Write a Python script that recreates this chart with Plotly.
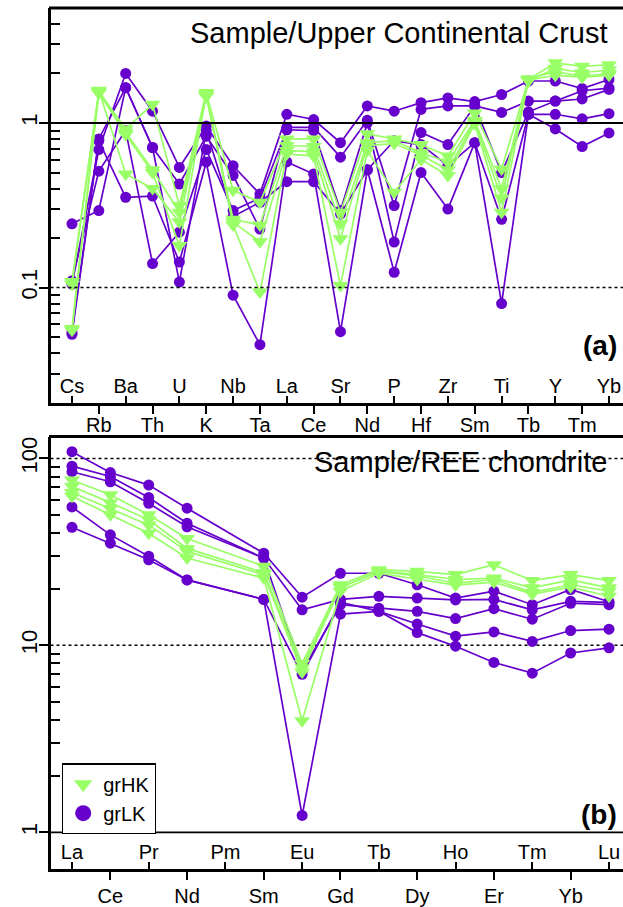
import plotly.graph_objects as go
import math

# ---------------- data ----------------
spider_elements = ["Cs", "Rb", "Ba", "Th", "U", "K", "Nb", "Ta", "La", "Ce", "Sr",
                   "Nd", "P", "Hf", "Zr", "Sm", "Ti", "Tb", "Y", "Tm", "Yb"]
ree_elements = ["La", "Ce", "Pr", "Nd", "Pm", "Sm", "Eu", "Gd", "Tb", "Dy", "Ho",
                "Er", "Tm", "Yb", "Lu"]

# Sample / Upper Continental Crust  (grLK)
lk1_ucc = [0.105, 0.69, 2.0, 1.18, 0.537, 0.96, 0.55, 0.37, 1.13, 1.05, 0.76, 1.27, 1.18, 1.33, 1.42, 1.35, 1.49, 1.80, 1.80, 1.62, 1.84]
lk2_ucc = [0.054, 0.80, 1.64, 0.71, 0.426, 0.83, 0.48, 0.227, 0.94, 0.94, 0.62, 1.04, 0.315, 1.21, 1.27, 1.27, 1.16, 1.36, 1.36, 1.57, 1.63]
lk3_ucc = [0.11, 0.51, 0.90, 0.14, 0.217, 0.69, 0.294, 0.35, 0.91, 0.90, 0.294, 1.00, 0.189, 0.875, 0.74, 1.27, 0.50, 1.17, 1.36, 1.40, 1.60]
lk4_ucc = [0.052, 0.78, 0.354, 0.36, 0.143, 0.58, 0.09, 0.045, 0.58, 0.49, 0.054, 0.52, 0.124, 0.50, 0.30, 0.76, 0.08, 1.13, 1.13, 1.06, 1.14]
lk5_ucc = [0.244, 0.294, 1.64, 0.71, 0.108, 0.90, 0.27, 0.33, 0.44, 0.44, 0.28, 0.52, 0.78, 0.74, 0.55, 0.76, 0.26, 1.13, 0.92, 0.72, 0.87]

# Sample / Upper Continental Crust  (grHK)
hk1_ucc = [0.109, 1.56, 0.92, 1.30, 0.315, 1.53, 0.39, 0.33, 0.80, 0.80, 0.287, 0.86, 0.80, 0.74, 0.63, 1.15, 0.525, 1.84, 2.32, 2.21, 2.26]
hk2_ucc = [0.105, 1.52, 0.88, 0.52, 0.287, 1.48, 0.26, 0.24, 0.73, 0.72, 0.244, 0.76, 0.78, 0.66, 0.58, 1.04, 0.40, 1.80, 2.15, 2.02, 2.10]
hk3_ucc = [0.0565, 1.58, 0.49, 0.40, 0.25, 1.45, 0.25, 0.19, 0.68, 0.67, 0.198, 0.73, 0.75, 0.64, 0.52, 1.02, 0.35, 1.86, 2.05, 1.92, 2.00]
hk4_ucc = [0.055, 1.54, 0.85, 0.50, 0.18, 1.50, 0.24, 0.094, 0.65, 0.63, 0.103, 0.68, 0.379, 0.60, 0.48, 0.99, 0.287, 1.82, 1.95, 1.90, 1.95]

# Sample / REE chondrite (Pm not analysed)
lk1_ree = [108.6, 84, 72, 54.2, None, 31.1, 18.1, 24.3, 24.3, 21.1, 17.9, 19.5, 16.5, 19.9, 17.1]
lk2_ree = [90.9, 80, 61.8, 45, None, 29.3, 15.5, 17.6, 18.3, 17.9, 17.5, 17.6, 15.5, 17.2, 17.0]
lk3_ree = [84.9, 75, 57.5, 43.1, None, 29.3, 7.3, 16.5, 15.8, 15.2, 13.9, 15.7, 13.8, 16.8, 16.5]
lk4_ree = [55, 39, 30, 22.4, None, 17.6, 1.23, 14.7, 15.2, 13.0, 11.2, 11.8, 10.5, 12.0, 12.2]
lk5_ree = [42.8, 35.2, 28.7, 22.4, None, 17.6, 7.0, 17.0, 15.2, 11.7, 9.9, 8.1, 7.1, 9.1, 9.7]

hk1_ree = [76.6, 64, 49.9, 37.3, None, 26.5, 8.0, 21.1, 25.4, 24.9, 23.9, 27.0, 22.2, 23.9, 22.2]
hk2_ree = [70.8, 58, 47, 33, None, 24.5, 7.6, 20.3, 25.0, 23.9, 22.5, 22.9, 20.3, 22.4, 20.3]
hk3_ree = [65.7, 54, 44.1, 31.8, None, 23.9, 7.2, 20.5, 24.8, 23.5, 21.5, 22.5, 19.2, 21.1, 19.5]
hk4_ree = [62.7, 50, 39.8, 29.3, None, 22.9, 3.95, 19.5, 24.3, 22.5, 21.0, 21.8, 18.8, 20.5, 18.3]

group_names = ["grHK", "grLK"]

# ---------------- styling ----------------
W, H = 623, 907
LK_COLOR = "#6600CC"
HK_COLOR = "#99FF66"
FONT = "Liberation Sans, Arial, sans-serif"


def px(p):
    return p / W


def py(p):
    return 1 - p / H


left = px(50.5)
top_dom = [py(404), py(8)]
bot_dom = [py(872), py(438)]

xs_sp = list(range(1, len(spider_elements) + 1))
xs_ree = list(range(1, len(ree_elements) + 1))

fig = go.Figure()

lk_sp = [lk1_ucc, lk2_ucc, lk3_ucc, lk4_ucc, lk5_ucc]
hk_sp = [hk1_ucc, hk2_ucc, hk3_ucc, hk4_ucc]
lk_re = [lk1_ree, lk2_ree, lk3_ree, lk4_ree, lk5_ree]
hk_re = [hk1_ree, hk2_ree, hk3_ree, hk4_ree]

lk_style = dict(mode="lines+markers", line=dict(color=LK_COLOR, width=1.7),
                marker=dict(symbol="circle", size=11, color=LK_COLOR),
                showlegend=False, connectgaps=True)
hk_style = dict(mode="lines+markers", line=dict(color=HK_COLOR, width=1.7),
                marker=dict(symbol="triangle-down", size=14, color=HK_COLOR),
                showlegend=False, connectgaps=True)

for s in lk_sp:
    fig.add_trace(go.Scatter(x=xs_sp, y=s, xaxis="x", yaxis="y", name=group_names[1], **lk_style))
for s in hk_sp:
    fig.add_trace(go.Scatter(x=xs_sp, y=s, xaxis="x", yaxis="y", name=group_names[0], **hk_style))
for s in lk_re:
    fig.add_trace(go.Scatter(x=xs_ree, y=s, xaxis="x2", yaxis="y2", name=group_names[1], **lk_style))
for s in hk_re:
    fig.add_trace(go.Scatter(x=xs_ree, y=s, xaxis="x2", yaxis="y2", name=group_names[0], **hk_style))

# legend proxies (markers only)
fig.add_trace(go.Scatter(x=[None], y=[None], xaxis="x2", yaxis="y2", mode="markers",
                         name=group_names[0], legendrank=1,
                         marker=dict(symbol="triangle-down", size=20, color=HK_COLOR)))
fig.add_trace(go.Scatter(x=[None], y=[None], xaxis="x2", yaxis="y2", mode="markers",
                         name=group_names[1], legendrank=2,
                         marker=dict(symbol="circle", size=16, color=LK_COLOR)))


def minor_vals(lo_exp, hi_exp):
    v = []
    for e in range(lo_exp, hi_exp + 1):
        for m in range(2, 10):
            v.append(m * 10 ** e)
    return v


tickfont = dict(family=FONT, size=20, color="black")
ytickfont = dict(family=FONT, size=22, color="black")

common_x = dict(showgrid=False, zeroline=False, tickcolor="black", tickwidth=2,
                tickfont=tickfont, fixedrange=True)

even_sp = [i for i in xs_sp if i % 2 == 0]
odd_sp = [i for i in xs_sp if i % 2 == 1]
even_re = [i for i in xs_ree if i % 2 == 0]
odd_re = [i for i in xs_ree if i % 2 == 1]

sp_range = [0.2, 1 + (623 - 72) / 26.85]
re_range = [0.44, 1 + (623 - 72) / 38.357]

fig.update_layout(
    width=W, height=H, margin=dict(l=0, r=0, t=0, b=0),
    paper_bgcolor="white", plot_bgcolor="white",
    font=dict(family=FONT, color="black"),
    xaxis=dict(domain=[left, 1], anchor="y", range=sp_range,
               tickvals=even_sp, ticktext=[spider_elements[i - 1] for i in even_sp],
               ticks="outside", ticklen=8, showline=True, linewidth=3, linecolor="black",
               ticklabelstandoff=-6, **common_x),
    xaxis3=dict(overlaying="x", anchor="y", side="bottom", range=sp_range,
                tickvals=odd_sp, ticktext=[spider_elements[i - 1] for i in odd_sp],
                ticks="inside", ticklen=7, ticklabelposition="inside",
                showline=False, **common_x),
    yaxis=dict(domain=top_dom, anchor="x", type="log",
               range=[math.log10(0.02), math.log10(5)],
               tickvals=[0.1, 1], ticktext=["0.1", "1"], tickangle=-90,
               ticks="outside", ticklen=9, tickwidth=2, tickcolor="black",
               tickfont=ytickfont, showline=True, linewidth=3, linecolor="black",
               showgrid=False, zeroline=False, fixedrange=True, ticklabelstandoff=-7,
               minor=dict(tickvals=minor_vals(-2, 0), ticks="inside", ticklen=9,
                          tickwidth=1.5, tickcolor="black", showgrid=False)),
    xaxis2=dict(domain=[left, 1], anchor="y2", range=re_range,
                tickvals=even_re, ticktext=[ree_elements[i - 1] for i in even_re],
                ticks="outside", ticklen=8, showline=True, linewidth=3, linecolor="black",
                ticklabelstandoff=-1, **common_x),
    xaxis4=dict(overlaying="x2", anchor="y2", side="bottom", range=re_range,
                tickvals=odd_re, ticktext=[ree_elements[i - 1] for i in odd_re],
                ticks="inside", ticklen=7, ticklabelposition="inside",
                showline=False, **common_x),
    yaxis2=dict(domain=bot_dom, anchor="x2", type="log", range=[-0.197, 2.117],
                tickvals=[1, 10, 100], ticktext=["1", "10", "100"], tickangle=-90,
                ticks="outside", ticklen=9, tickwidth=2, tickcolor="black",
                tickfont=ytickfont, showline=True, linewidth=3, linecolor="black",
                showgrid=False, zeroline=False, fixedrange=True, ticklabelstandoff=-7,
                minor=dict(tickvals=minor_vals(0, 1), ticks="inside", ticklen=9,
                           tickwidth=1.5, tickcolor="black", showgrid=False)),
    showlegend=True,
    legend=dict(x=px(62), y=py(766), xanchor="left", yanchor="top",
                bordercolor="black", borderwidth=1.2, bgcolor="white",
                font=dict(family=FONT, size=20, color="black"),
                tracegroupgap=0, itemsizing="trace"),
)

# dummy traces so the overlay axes render
fig.add_trace(go.Scatter(x=[None], y=[None], xaxis="x3", yaxis="y", showlegend=False))
fig.add_trace(go.Scatter(x=[None], y=[None], xaxis="x4", yaxis="y2", showlegend=False))

# top frame lines
for ytop in (8, 438):
    fig.add_shape(type="line", xref="paper", yref="paper", x0=px(49), x1=1,
                  y0=py(ytop), y1=py(ytop), line=dict(color="black", width=3))

# reference lines
fig.add_shape(type="line", xref="x domain", yref="y", x0=0, x1=1, y0=1, y1=1,
              line=dict(color="black", width=1.8))
fig.add_shape(type="line", xref="x domain", yref="y", x0=0, x1=1, y0=0.1, y1=0.1,
              line=dict(color="black", width=1.5, dash="dot"))
fig.add_shape(type="line", xref="x2 domain", yref="y2", x0=0, x1=1, y0=1, y1=1,
              line=dict(color="black", width=1.8))
for v in (10, 100):
    fig.add_shape(type="line", xref="x2 domain", yref="y2", x0=0, x1=1, y0=v, y1=v,
                  line=dict(color="black", width=1.5, dash="dot"), layer="below")

# titles and panel letters
fig.add_annotation(text="Sample/Upper Continental Crust", xref="paper", yref="paper",
                   x=px(609), y=py(33), xanchor="right", yanchor="middle", showarrow=False,
                   font=dict(family=FONT, size=29, color="black"))
fig.add_annotation(text="Sample/REE chondrite", xref="paper", yref="paper",
                   x=px(609), y=py(464), xanchor="right", yanchor="middle", showarrow=False,
                   font=dict(family=FONT, size=29, color="black"))
fig.add_annotation(text="<b>(a)</b>", xref="paper", yref="paper",
                   x=px(619), y=py(347), xanchor="right", yanchor="middle", showarrow=False,
                   font=dict(family=FONT, size=28, color="black"))
fig.add_annotation(text="<b>(b)</b>", xref="paper", yref="paper",
                   x=px(619), y=py(817), xanchor="right", yanchor="middle", showarrow=False,
                   font=dict(family=FONT, size=28, color="black"))

fig.write_html("out.html")
